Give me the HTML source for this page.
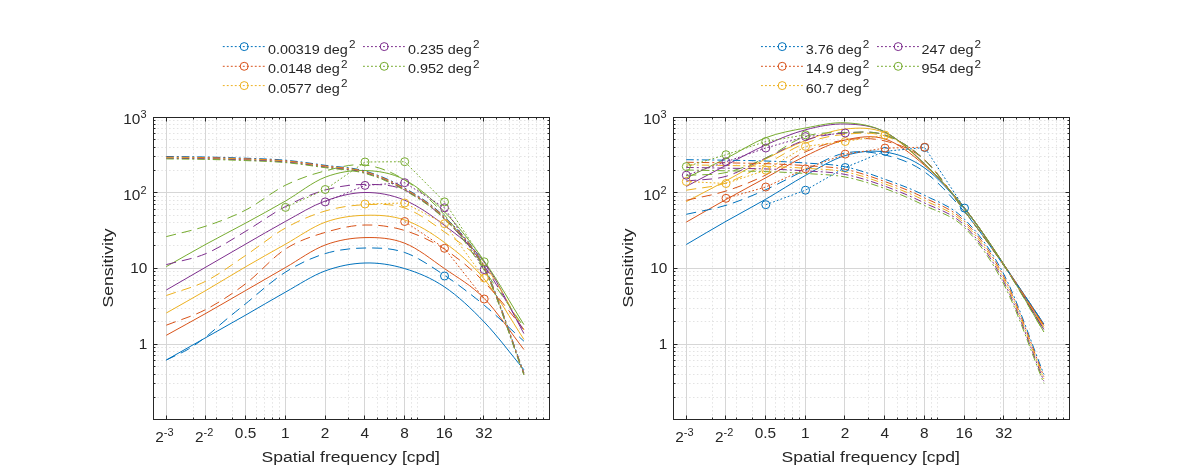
<!DOCTYPE html><html><head><meta charset="utf-8"><style>html,body{margin:0;padding:0;background:#fff;overflow:hidden}svg{display:block;will-change:transform}</style></head><body><svg width="1181" height="472" viewBox="0 0 1181 472" font-family='"Liberation Sans", sans-serif' fill="#262626">
<rect width="1181" height="472" fill="#fff"/>
<path d="M193.5,117.5V419.5 M216.5,117.5V419.5 M232.5,117.5V419.5 M245.5,117.5V419.5 M256.5,117.5V419.5 M264.5,117.5V419.5 M272.5,117.5V419.5 M279.5,117.5V419.5 M325.5,117.5V419.5 M348.5,117.5V419.5 M364.5,117.5V419.5 M377.5,117.5V419.5 M387.5,117.5V419.5 M396.5,117.5V419.5 M404.5,117.5V419.5 M411.5,117.5V419.5 M456.5,117.5V419.5 M480.5,117.5V419.5 M496.5,117.5V419.5 M509.5,117.5V419.5 M519.5,117.5V419.5 M528.5,117.5V419.5 M536.5,117.5V419.5 M543.5,117.5V419.5 M153.5,397.5H549.5 M153.5,383.5H549.5 M153.5,374.5H549.5 M153.5,366.5H549.5 M153.5,360.5H549.5 M153.5,355.5H549.5 M153.5,351.5H549.5 M153.5,347.5H549.5 M153.5,321.5H549.5 M153.5,308.5H549.5 M153.5,298.5H549.5 M153.5,291.5H549.5 M153.5,285.5H549.5 M153.5,280.5H549.5 M153.5,275.5H549.5 M153.5,271.5H549.5 M153.5,245.5H549.5 M153.5,232.5H549.5 M153.5,222.5H549.5 M153.5,215.5H549.5 M153.5,209.5H549.5 M153.5,204.5H549.5 M153.5,200.5H549.5 M153.5,196.5H549.5 M153.5,170.5H549.5 M153.5,156.5H549.5 M153.5,147.5H549.5 M153.5,139.5H549.5 M153.5,133.5H549.5 M153.5,128.5H549.5 M153.5,124.5H549.5 M153.5,120.5H549.5 M285.5,117.5V419.5 M417.5,117.5V419.5" stroke="#e3e3e3" stroke-width="1" stroke-dasharray="1.5 2.4" fill="none"/>
<path d="M166.5,117.5V419.5 M205.5,117.5V419.5 M245.5,117.5V419.5 M285.5,117.5V419.5 M325.5,117.5V419.5 M364.5,117.5V419.5 M404.5,117.5V419.5 M444.5,117.5V419.5 M483.5,117.5V419.5 M153.5,344.5H549.5 M153.5,268.5H549.5 M153.5,192.5H549.5" stroke="#d6d6d6" stroke-width="1" fill="none"/>
<path d="M712.5,117.5V419.5 M736.5,117.5V419.5 M752.5,117.5V419.5 M765.5,117.5V419.5 M775.5,117.5V419.5 M784.5,117.5V419.5 M792.5,117.5V419.5 M799.5,117.5V419.5 M844.5,117.5V419.5 M868.5,117.5V419.5 M884.5,117.5V419.5 M897.5,117.5V419.5 M907.5,117.5V419.5 M916.5,117.5V419.5 M924.5,117.5V419.5 M931.5,117.5V419.5 M976.5,117.5V419.5 M1000.5,117.5V419.5 M1016.5,117.5V419.5 M1029.5,117.5V419.5 M1039.5,117.5V419.5 M1048.5,117.5V419.5 M1056.5,117.5V419.5 M1063.5,117.5V419.5 M673.5,397.5H1069.5 M673.5,383.5H1069.5 M673.5,374.5H1069.5 M673.5,366.5H1069.5 M673.5,360.5H1069.5 M673.5,355.5H1069.5 M673.5,351.5H1069.5 M673.5,347.5H1069.5 M673.5,321.5H1069.5 M673.5,308.5H1069.5 M673.5,298.5H1069.5 M673.5,291.5H1069.5 M673.5,285.5H1069.5 M673.5,280.5H1069.5 M673.5,275.5H1069.5 M673.5,271.5H1069.5 M673.5,245.5H1069.5 M673.5,232.5H1069.5 M673.5,222.5H1069.5 M673.5,215.5H1069.5 M673.5,209.5H1069.5 M673.5,204.5H1069.5 M673.5,200.5H1069.5 M673.5,196.5H1069.5 M673.5,170.5H1069.5 M673.5,156.5H1069.5 M673.5,147.5H1069.5 M673.5,139.5H1069.5 M673.5,133.5H1069.5 M673.5,128.5H1069.5 M673.5,124.5H1069.5 M673.5,120.5H1069.5 M805.5,117.5V419.5 M937.5,117.5V419.5" stroke="#e3e3e3" stroke-width="1" stroke-dasharray="1.5 2.4" fill="none"/>
<path d="M686.5,117.5V419.5 M725.5,117.5V419.5 M765.5,117.5V419.5 M805.5,117.5V419.5 M844.5,117.5V419.5 M884.5,117.5V419.5 M924.5,117.5V419.5 M964.5,117.5V419.5 M1003.5,117.5V419.5 M673.5,344.5H1069.5 M673.5,268.5H1069.5 M673.5,192.5H1069.5" stroke="#d6d6d6" stroke-width="1" fill="none"/>
<path d="M166.30,360.00 C179.53,352.50 192.75,345.00 206.00,337.50 C219.25,330.00 232.55,322.57 245.80,315.00 C259.05,307.43 272.27,299.45 285.50,292.10 C298.73,284.75 311.95,275.75 325.20,270.90 C338.45,266.05 351.75,263.38 365.00,263.00 C378.25,262.62 391.45,264.62 404.70,268.60 C417.95,272.58 431.25,278.00 444.50,286.90 C457.75,295.80 470.97,308.20 484.20,322.00 C497.43,335.80 510.67,353.80 523.90,369.70" stroke="#0072BD" stroke-width="1.00" fill="none" />
<path d="M166.30,335.30 C179.53,327.97 192.75,320.78 206.00,313.30 C219.25,305.82 232.55,298.03 245.80,290.40 C259.05,282.77 272.27,275.07 285.50,267.50 C298.73,259.93 311.95,249.98 325.20,245.00 C338.45,240.02 351.75,237.90 365.00,237.60 C378.25,237.30 391.45,238.03 404.70,243.20 C417.95,248.37 431.25,259.40 444.50,268.60 C457.75,277.80 470.97,284.92 484.20,298.40 C497.43,311.88 510.67,332.47 523.90,349.50" stroke="#D95319" stroke-width="1.00" fill="none" />
<path d="M166.30,313.00 C179.53,305.47 192.75,298.12 206.00,290.40 C219.25,282.68 232.55,274.40 245.80,266.70 C259.05,259.00 272.27,251.62 285.50,244.20 C298.73,236.78 311.95,227.02 325.20,222.20 C338.45,217.38 351.75,215.67 365.00,215.30 C378.25,214.93 391.45,215.47 404.70,220.00 C417.95,224.53 431.25,232.67 444.50,242.50 C457.75,252.33 470.97,262.85 484.20,279.00 C497.43,295.15 510.67,319.27 523.90,339.40" stroke="#EDB120" stroke-width="1.00" fill="none" />
<path d="M166.30,290.00 C179.53,282.33 192.75,274.67 206.00,267.00 C219.25,259.33 232.55,251.60 245.80,244.00 C259.05,236.40 272.27,228.57 285.50,221.40 C298.73,214.23 311.95,205.82 325.20,201.00 C338.45,196.18 351.75,192.63 365.00,192.50 C378.25,192.37 391.45,194.72 404.70,200.20 C417.95,205.68 431.25,215.10 444.50,225.40 C457.75,235.70 470.97,243.98 484.20,262.00 C497.43,280.02 510.67,309.67 523.90,333.50" stroke="#7E2F8E" stroke-width="1.00" fill="none" />
<path d="M166.30,266.60 C179.53,259.13 192.75,251.47 206.00,244.20 C219.25,236.93 232.55,230.20 245.80,223.00 C259.05,215.80 272.27,208.63 285.50,201.00 C298.73,193.37 311.95,182.28 325.20,177.20 C338.45,172.12 351.75,170.07 365.00,170.50 C378.25,170.93 391.45,172.90 404.70,179.80 C417.95,186.70 431.25,198.37 444.50,211.90 C457.75,225.43 470.97,242.22 484.20,261.00 C497.43,279.78 510.67,303.40 523.90,324.60" stroke="#77AC30" stroke-width="1.00" fill="none" />
<path d="M166.30,360.00 C173.73,356.33 181.82,353.00 188.60,349.00 C195.38,345.00 200.93,340.75 207.00,336.00 C213.07,331.25 218.53,325.90 225.00,320.50 C231.47,315.10 235.72,311.67 245.80,303.60 C255.88,295.53 272.27,280.43 285.50,272.10 C298.73,263.77 311.95,257.62 325.20,253.60 C338.45,249.58 351.75,248.18 365.00,248.00 C378.25,247.82 391.45,247.95 404.70,252.50 C417.95,257.05 431.25,266.52 444.50,275.30 C457.75,284.08 470.97,294.22 484.20,305.20 C497.43,316.18 510.67,329.20 523.90,341.20" stroke="#0072BD" stroke-width="1.00" fill="none" stroke-dasharray="10 6"/>
<path d="M166.30,325.20 C179.53,319.93 192.75,316.33 206.00,309.40 C219.25,302.47 232.55,293.67 245.80,283.60 C259.05,273.53 272.27,257.53 285.50,249.00 C298.73,240.47 311.95,236.40 325.20,232.40 C338.45,228.40 351.75,225.32 365.00,225.00 C378.25,224.68 391.45,226.47 404.70,230.50 C417.95,234.53 431.25,240.62 444.50,249.20 C457.75,257.78 470.97,268.65 484.20,282.00 C497.43,295.35 510.67,313.53 523.90,329.30" stroke="#D95319" stroke-width="1.00" fill="none" stroke-dasharray="10 6"/>
<path d="M166.30,295.50 C179.53,290.70 192.75,287.80 206.00,281.10 C219.25,274.40 232.55,264.15 245.80,255.30 C259.05,246.45 272.27,235.38 285.50,228.00 C298.73,220.62 311.95,214.88 325.20,211.00 C338.45,207.12 351.75,205.20 365.00,204.70 C378.25,204.20 391.45,203.45 404.70,208.00 C417.95,212.55 431.25,222.50 444.50,232.00 C457.75,241.50 470.97,248.67 484.20,265.00 C497.43,281.33 510.67,308.33 523.90,330.00" stroke="#EDB120" stroke-width="1.00" fill="none" stroke-dasharray="10 6"/>
<path d="M166.30,264.60 C179.53,260.93 192.75,259.17 206.00,253.60 C219.25,248.03 232.55,239.05 245.80,231.20 C259.05,223.35 272.27,213.37 285.50,206.50 C298.73,199.63 311.95,193.68 325.20,190.00 C338.45,186.32 351.75,184.40 365.00,184.40 C378.25,184.40 391.45,184.23 404.70,190.00 C417.95,195.77 431.25,206.33 444.50,219.00 C457.75,231.67 470.97,247.33 484.20,266.00 C497.43,284.67 510.67,309.33 523.90,331.00" stroke="#7E2F8E" stroke-width="1.00" fill="none" stroke-dasharray="10 6"/>
<path d="M166.30,236.60 C179.53,233.10 192.75,230.53 206.00,226.10 C219.25,221.67 232.55,216.82 245.80,210.00 C259.05,203.18 272.27,191.72 285.50,185.20 C298.73,178.68 311.95,174.27 325.20,170.90 C338.45,167.53 351.75,163.48 365.00,165.00 C378.25,166.52 391.45,171.67 404.70,180.00 C417.95,188.33 431.25,200.00 444.50,215.00 C457.75,230.00 470.97,251.33 484.20,270.00 C497.43,288.67 510.67,308.00 523.90,327.00" stroke="#77AC30" stroke-width="1.00" fill="none" stroke-dasharray="10 6"/>
<path d="M166.30,156.50 C179.53,156.67 192.75,156.72 206.00,157.00 C219.25,157.28 232.55,157.67 245.80,158.20 C259.05,158.73 272.27,159.02 285.50,160.20 C298.73,161.38 311.95,163.50 325.20,165.30 C338.45,167.10 351.75,167.22 365.00,171.00 C378.25,174.78 391.45,180.37 404.70,188.00 C417.95,195.63 431.25,203.67 444.50,216.80 C457.75,229.93 470.97,240.83 484.20,266.80 C497.43,292.77 510.67,337.33 523.90,372.60" stroke="#0072BD" stroke-width="1.00" fill="none" stroke-dasharray="7.5 3 2 3"/>
<path d="M166.30,157.10 C179.53,157.27 192.75,157.32 206.00,157.60 C219.25,157.88 232.55,158.27 245.80,158.80 C259.05,159.33 272.27,159.62 285.50,160.80 C298.73,161.98 311.95,164.10 325.20,165.90 C338.45,167.70 351.75,167.82 365.00,171.60 C378.25,175.38 391.45,180.97 404.70,188.60 C417.95,196.23 431.25,204.27 444.50,217.40 C457.75,230.53 470.97,241.43 484.20,267.40 C497.43,293.37 510.67,337.93 523.90,373.20" stroke="#D95319" stroke-width="1.00" fill="none" stroke-dasharray="7.5 3 2 3"/>
<path d="M166.30,157.70 C179.53,157.87 192.75,157.92 206.00,158.20 C219.25,158.48 232.55,158.87 245.80,159.40 C259.05,159.93 272.27,160.22 285.50,161.40 C298.73,162.58 311.95,164.70 325.20,166.50 C338.45,168.30 351.75,168.42 365.00,172.20 C378.25,175.98 391.45,181.57 404.70,189.20 C417.95,196.83 431.25,204.87 444.50,218.00 C457.75,231.13 470.97,242.03 484.20,268.00 C497.43,293.97 510.67,338.53 523.90,373.80" stroke="#EDB120" stroke-width="1.00" fill="none" stroke-dasharray="7.5 3 2 3"/>
<path d="M166.30,158.30 C179.53,158.47 192.75,158.52 206.00,158.80 C219.25,159.08 232.55,159.47 245.80,160.00 C259.05,160.53 272.27,160.82 285.50,162.00 C298.73,163.18 311.95,165.30 325.20,167.10 C338.45,168.90 351.75,169.02 365.00,172.80 C378.25,176.58 391.45,182.17 404.70,189.80 C417.95,197.43 431.25,205.47 444.50,218.60 C457.75,231.73 470.97,242.63 484.20,268.60 C497.43,294.57 510.67,339.13 523.90,374.40" stroke="#7E2F8E" stroke-width="1.00" fill="none" stroke-dasharray="7.5 3 2 3"/>
<path d="M166.30,158.90 C179.53,159.07 192.75,159.12 206.00,159.40 C219.25,159.68 232.55,160.07 245.80,160.60 C259.05,161.13 272.27,161.42 285.50,162.60 C298.73,163.78 311.95,165.90 325.20,167.70 C338.45,169.50 351.75,169.62 365.00,173.40 C378.25,177.18 391.45,182.77 404.70,190.40 C417.95,198.03 431.25,206.07 444.50,219.20 C457.75,232.33 470.97,243.23 484.20,269.20 C497.43,295.17 510.67,339.73 523.90,375.00" stroke="#77AC30" stroke-width="1.00" fill="none" stroke-dasharray="7.5 3 2 3"/>
<circle cx="444.5" cy="276.0" r="4" stroke="#0072BD" stroke-width="1" fill="none"/>
<path d="M404.70,221.50 L444.50,248.30 L484.20,299.00" stroke="#D95319" stroke-width="1" fill="none" stroke-dasharray="1.8 2.1"/>
<circle cx="404.7" cy="221.5" r="4" stroke="#D95319" stroke-width="1" fill="none"/>
<circle cx="444.5" cy="248.3" r="4" stroke="#D95319" stroke-width="1" fill="none"/>
<circle cx="484.2" cy="299.0" r="4" stroke="#D95319" stroke-width="1" fill="none"/>
<path d="M365.00,204.00 L404.70,203.00 L444.50,223.70 L484.20,278.00" stroke="#EDB120" stroke-width="1" fill="none" stroke-dasharray="1.8 2.1"/>
<circle cx="365.0" cy="204.0" r="4" stroke="#EDB120" stroke-width="1" fill="none"/>
<circle cx="404.7" cy="203.0" r="4" stroke="#EDB120" stroke-width="1" fill="none"/>
<circle cx="444.5" cy="223.7" r="4" stroke="#EDB120" stroke-width="1" fill="none"/>
<circle cx="484.2" cy="278.0" r="4" stroke="#EDB120" stroke-width="1" fill="none"/>
<path d="M325.20,201.90 L365.00,185.40 L404.70,182.70 L444.50,207.80 L484.20,269.60" stroke="#7E2F8E" stroke-width="1" fill="none" stroke-dasharray="1.8 2.1"/>
<circle cx="325.2" cy="201.9" r="4" stroke="#7E2F8E" stroke-width="1" fill="none"/>
<circle cx="365.0" cy="185.4" r="4" stroke="#7E2F8E" stroke-width="1" fill="none"/>
<circle cx="404.7" cy="182.7" r="4" stroke="#7E2F8E" stroke-width="1" fill="none"/>
<circle cx="444.5" cy="207.8" r="4" stroke="#7E2F8E" stroke-width="1" fill="none"/>
<circle cx="484.2" cy="269.6" r="4" stroke="#7E2F8E" stroke-width="1" fill="none"/>
<path d="M285.50,207.40 L325.20,189.50 L365.00,162.00 L404.70,161.70 L444.50,201.90 L484.20,261.80" stroke="#77AC30" stroke-width="1" fill="none" stroke-dasharray="1.8 2.1"/>
<circle cx="285.5" cy="207.4" r="4" stroke="#77AC30" stroke-width="1" fill="none"/>
<circle cx="325.2" cy="189.5" r="4" stroke="#77AC30" stroke-width="1" fill="none"/>
<circle cx="365.0" cy="162.0" r="4" stroke="#77AC30" stroke-width="1" fill="none"/>
<circle cx="404.7" cy="161.7" r="4" stroke="#77AC30" stroke-width="1" fill="none"/>
<circle cx="444.5" cy="201.9" r="4" stroke="#77AC30" stroke-width="1" fill="none"/>
<circle cx="484.2" cy="261.8" r="4" stroke="#77AC30" stroke-width="1" fill="none"/>
<path d="M686.30,244.50 C699.53,236.77 712.75,228.85 726.00,221.30 C739.25,213.75 752.55,206.85 765.80,199.20 C779.05,191.55 792.27,182.67 805.50,175.40 C818.73,168.13 831.95,159.50 845.20,155.60 C858.45,151.70 871.75,149.93 885.00,152.00 C898.25,154.07 911.45,158.50 924.70,168.00 C937.95,177.50 951.25,192.83 964.50,209.00 C977.75,225.17 990.97,245.83 1004.20,265.00 C1017.43,284.17 1030.67,304.33 1043.90,324.00" stroke="#0072BD" stroke-width="1.00" fill="none" />
<path d="M686.30,222.10 C699.53,214.57 712.75,206.88 726.00,199.50 C739.25,192.12 752.55,185.05 765.80,177.80 C779.05,170.55 792.27,162.30 805.50,156.00 C818.73,149.70 831.95,142.83 845.20,140.00 C858.45,137.17 871.75,134.75 885.00,139.00 C898.25,143.25 911.45,154.00 924.70,165.50 C937.95,177.00 951.25,191.42 964.50,208.00 C977.75,224.58 990.97,245.42 1004.20,265.00 C1017.43,284.58 1030.67,305.33 1043.90,325.50" stroke="#D95319" stroke-width="1.00" fill="none" />
<path d="M686.30,201.60 C699.53,194.67 712.75,187.92 726.00,180.80 C739.25,173.68 752.55,165.60 765.80,158.90 C779.05,152.20 792.27,145.58 805.50,140.60 C818.73,135.62 831.95,130.27 845.20,129.00 C858.45,127.73 871.75,127.08 885.00,133.00 C898.25,138.92 911.45,152.00 924.70,164.50 C937.95,177.00 951.25,191.25 964.50,208.00 C977.75,224.75 990.97,245.08 1004.20,265.00 C1017.43,284.92 1030.67,306.67 1043.90,327.50" stroke="#EDB120" stroke-width="1.00" fill="none" />
<path d="M686.30,186.40 C699.53,179.37 712.75,172.22 726.00,165.30 C739.25,158.38 752.55,150.82 765.80,144.90 C779.05,138.98 792.27,133.28 805.50,129.80 C818.73,126.32 831.95,123.63 845.20,124.00 C858.45,124.37 871.75,125.33 885.00,132.00 C898.25,138.67 911.45,151.33 924.70,164.00 C937.95,176.67 951.25,191.17 964.50,208.00 C977.75,224.83 990.97,244.75 1004.20,265.00 C1017.43,285.25 1030.67,308.00 1043.90,329.50" stroke="#7E2F8E" stroke-width="1.00" fill="none" />
<path d="M686.30,178.00 C699.53,171.50 712.75,165.22 726.00,158.50 C739.25,151.78 752.55,142.78 765.80,137.70 C779.05,132.62 792.27,130.48 805.50,128.00 C818.73,125.52 831.95,122.13 845.20,122.80 C858.45,123.47 871.75,125.13 885.00,132.00 C898.25,138.87 911.45,151.33 924.70,164.00 C937.95,176.67 951.25,191.17 964.50,208.00 C977.75,224.83 990.97,244.33 1004.20,265.00 C1017.43,285.67 1030.67,309.67 1043.90,332.00" stroke="#77AC30" stroke-width="1.00" fill="none" />
<path d="M686.30,214.30 C699.53,211.30 712.75,209.40 726.00,205.30 C739.25,201.20 752.55,195.58 765.80,189.70 C779.05,183.82 792.27,176.12 805.50,170.00 C818.73,163.88 831.95,155.50 845.20,153.00 C858.45,150.50 871.75,151.83 885.00,155.00 C898.25,158.17 911.45,162.50 924.70,172.00 C937.95,181.50 951.25,196.33 964.50,212.00 C977.75,227.67 990.97,247.33 1004.20,266.00 C1017.43,284.67 1030.67,304.67 1043.90,324.00" stroke="#0072BD" stroke-width="1.00" fill="none" stroke-dasharray="10 6"/>
<path d="M686.30,200.30 C699.53,197.20 712.75,195.22 726.00,191.00 C739.25,186.78 752.55,181.53 765.80,175.00 C779.05,168.47 792.27,157.63 805.50,151.80 C818.73,145.97 831.95,141.80 845.20,140.00 C858.45,138.20 871.75,137.67 885.00,141.00 C898.25,144.33 911.45,148.33 924.70,160.00 C937.95,171.67 951.25,193.33 964.50,211.00 C977.75,228.67 990.97,246.92 1004.20,266.00 C1017.43,285.08 1030.67,305.67 1043.90,325.50" stroke="#D95319" stroke-width="1.00" fill="none" stroke-dasharray="10 6"/>
<path d="M686.30,190.20 C699.53,187.80 712.75,187.37 726.00,183.00 C739.25,178.63 752.55,170.63 765.80,164.00 C779.05,157.37 792.27,148.15 805.50,143.20 C818.73,138.25 831.95,135.50 845.20,134.30 C858.45,133.10 871.75,131.72 885.00,136.00 C898.25,140.28 911.45,147.50 924.70,160.00 C937.95,172.50 951.25,193.33 964.50,211.00 C977.75,228.67 990.97,246.58 1004.20,266.00 C1017.43,285.42 1030.67,307.00 1043.90,327.50" stroke="#EDB120" stroke-width="1.00" fill="none" stroke-dasharray="10 6"/>
<path d="M686.30,181.00 C699.53,179.43 712.75,180.13 726.00,176.30 C739.25,172.47 752.55,164.05 765.80,158.00 C779.05,151.95 792.27,144.17 805.50,140.00 C818.73,135.83 831.95,133.83 845.20,133.00 C858.45,132.17 871.75,130.50 885.00,135.00 C898.25,139.50 911.45,147.33 924.70,160.00 C937.95,172.67 951.25,193.33 964.50,211.00 C977.75,228.67 990.97,246.25 1004.20,266.00 C1017.43,285.75 1030.67,308.33 1043.90,329.50" stroke="#7E2F8E" stroke-width="1.00" fill="none" stroke-dasharray="10 6"/>
<path d="M686.30,175.40 C699.53,174.43 712.75,175.40 726.00,172.50 C739.25,169.60 752.55,164.02 765.80,158.00 C779.05,151.98 792.27,140.63 805.50,136.40 C818.73,132.17 831.95,132.83 845.20,132.60 C858.45,132.37 871.75,130.43 885.00,135.00 C898.25,139.57 911.45,147.33 924.70,160.00 C937.95,172.67 951.25,193.33 964.50,211.00 C977.75,228.67 990.97,245.83 1004.20,266.00 C1017.43,286.17 1030.67,310.00 1043.90,332.00" stroke="#77AC30" stroke-width="1.00" fill="none" stroke-dasharray="10 6"/>
<path d="M686.30,159.70 C699.53,159.87 712.75,159.98 726.00,160.20 C739.25,160.42 752.55,160.53 765.80,161.00 C779.05,161.47 792.27,162.03 805.50,163.00 C818.73,163.97 831.95,164.08 845.20,166.80 C858.45,169.52 871.75,174.53 885.00,179.30 C898.25,184.07 911.45,188.75 924.70,195.40 C937.95,202.05 951.25,205.93 964.50,219.20 C977.75,232.47 990.97,249.13 1004.20,275.00 C1017.43,300.87 1030.67,341.27 1043.90,374.40" stroke="#0072BD" stroke-width="1.00" fill="none" stroke-dasharray="7.5 3 2 3"/>
<path d="M686.30,162.27 C699.53,162.47 712.75,162.62 726.00,162.85 C739.25,163.08 752.55,163.19 765.80,163.65 C779.05,164.11 792.27,164.68 805.50,165.62 C818.73,166.57 831.95,166.68 845.20,169.35 C858.45,172.02 871.75,176.86 885.00,181.63 C898.25,186.39 911.45,191.34 924.70,197.95 C937.95,204.56 951.25,208.04 964.50,221.30 C977.75,234.56 990.97,251.60 1004.20,277.50 C1017.43,303.40 1030.67,343.62 1043.90,376.67" stroke="#D95319" stroke-width="1.00" fill="none" stroke-dasharray="7.5 3 2 3"/>
<path d="M686.30,164.85 C699.53,165.07 712.75,165.26 726.00,165.50 C739.25,165.74 752.55,165.84 765.80,166.30 C779.05,166.76 792.27,167.32 805.50,168.25 C818.73,169.18 831.95,169.28 845.20,171.90 C858.45,174.52 871.75,179.18 885.00,183.95 C898.25,188.72 911.45,193.93 924.70,200.50 C937.95,207.07 951.25,210.15 964.50,223.40 C977.75,236.65 990.97,254.07 1004.20,280.00 C1017.43,305.93 1030.67,345.97 1043.90,378.95" stroke="#EDB120" stroke-width="1.00" fill="none" stroke-dasharray="7.5 3 2 3"/>
<path d="M686.30,167.43 C699.53,167.67 712.75,167.90 726.00,168.15 C739.25,168.40 752.55,168.50 765.80,168.95 C779.05,169.40 792.27,169.96 805.50,170.88 C818.73,171.79 831.95,171.88 845.20,174.45 C858.45,177.02 871.75,181.51 885.00,186.27 C898.25,191.04 911.45,196.51 924.70,203.05 C937.95,209.59 951.25,212.26 964.50,225.50 C977.75,238.74 990.97,256.55 1004.20,282.50 C1017.43,308.45 1030.67,348.32 1043.90,381.23" stroke="#7E2F8E" stroke-width="1.00" fill="none" stroke-dasharray="7.5 3 2 3"/>
<path d="M686.30,170.00 C699.53,170.27 712.75,170.53 726.00,170.80 C739.25,171.07 752.55,171.15 765.80,171.60 C779.05,172.05 792.27,172.60 805.50,173.50 C818.73,174.40 831.95,174.48 845.20,177.00 C858.45,179.52 871.75,183.83 885.00,188.60 C898.25,193.37 911.45,199.10 924.70,205.60 C937.95,212.10 951.25,214.37 964.50,227.60 C977.75,240.83 990.97,259.02 1004.20,285.00 C1017.43,310.98 1030.67,350.67 1043.90,383.50" stroke="#77AC30" stroke-width="1.00" fill="none" stroke-dasharray="7.5 3 2 3"/>
<path d="M765.80,204.70 L805.50,190.20 L845.20,167.50 L885.00,151.30 L924.70,147.50 L964.50,208.10" stroke="#0072BD" stroke-width="1" fill="none" stroke-dasharray="1.8 2.1"/>
<circle cx="765.8" cy="204.7" r="4" stroke="#0072BD" stroke-width="1" fill="none"/>
<circle cx="805.5" cy="190.2" r="4" stroke="#0072BD" stroke-width="1" fill="none"/>
<circle cx="845.2" cy="167.5" r="4" stroke="#0072BD" stroke-width="1" fill="none"/>
<circle cx="885.0" cy="151.3" r="4" stroke="#0072BD" stroke-width="1" fill="none"/>
<circle cx="924.7" cy="147.5" r="4" stroke="#0072BD" stroke-width="1" fill="none"/>
<circle cx="964.5" cy="208.1" r="4" stroke="#0072BD" stroke-width="1" fill="none"/>
<path d="M726.00,198.30 L765.80,187.00 L805.50,168.80 L845.20,154.10 L885.00,148.10 L924.70,147.20" stroke="#D95319" stroke-width="1" fill="none" stroke-dasharray="1.8 2.1"/>
<circle cx="726.0" cy="198.3" r="4" stroke="#D95319" stroke-width="1" fill="none"/>
<circle cx="765.8" cy="187.0" r="4" stroke="#D95319" stroke-width="1" fill="none"/>
<circle cx="805.5" cy="168.8" r="4" stroke="#D95319" stroke-width="1" fill="none"/>
<circle cx="845.2" cy="154.1" r="4" stroke="#D95319" stroke-width="1" fill="none"/>
<circle cx="885.0" cy="148.1" r="4" stroke="#D95319" stroke-width="1" fill="none"/>
<circle cx="924.7" cy="147.2" r="4" stroke="#D95319" stroke-width="1" fill="none"/>
<path d="M686.30,181.50 L726.00,183.50 L765.80,170.20 L805.50,146.40 L845.20,141.50 L885.00,135.10" stroke="#EDB120" stroke-width="1" fill="none" stroke-dasharray="1.8 2.1"/>
<circle cx="686.3" cy="181.5" r="4" stroke="#EDB120" stroke-width="1" fill="none"/>
<circle cx="726.0" cy="183.5" r="4" stroke="#EDB120" stroke-width="1" fill="none"/>
<circle cx="765.8" cy="170.2" r="4" stroke="#EDB120" stroke-width="1" fill="none"/>
<circle cx="805.5" cy="146.4" r="4" stroke="#EDB120" stroke-width="1" fill="none"/>
<circle cx="845.2" cy="141.5" r="4" stroke="#EDB120" stroke-width="1" fill="none"/>
<circle cx="885.0" cy="135.1" r="4" stroke="#EDB120" stroke-width="1" fill="none"/>
<path d="M686.30,175.20 L726.00,161.80 L765.80,148.00 L805.50,136.60 L845.20,133.00" stroke="#7E2F8E" stroke-width="1" fill="none" stroke-dasharray="1.8 2.1"/>
<circle cx="686.3" cy="175.2" r="4" stroke="#7E2F8E" stroke-width="1" fill="none"/>
<circle cx="726.0" cy="161.8" r="4" stroke="#7E2F8E" stroke-width="1" fill="none"/>
<circle cx="765.8" cy="148.0" r="4" stroke="#7E2F8E" stroke-width="1" fill="none"/>
<circle cx="805.5" cy="136.6" r="4" stroke="#7E2F8E" stroke-width="1" fill="none"/>
<circle cx="845.2" cy="133.0" r="4" stroke="#7E2F8E" stroke-width="1" fill="none"/>
<path d="M686.30,166.60 L726.00,154.70 L765.80,141.50 L805.50,134.80" stroke="#77AC30" stroke-width="1" fill="none" stroke-dasharray="1.8 2.1"/>
<circle cx="686.3" cy="166.6" r="4" stroke="#77AC30" stroke-width="1" fill="none"/>
<circle cx="726.0" cy="154.7" r="4" stroke="#77AC30" stroke-width="1" fill="none"/>
<circle cx="765.8" cy="141.5" r="4" stroke="#77AC30" stroke-width="1" fill="none"/>
<circle cx="805.5" cy="134.8" r="4" stroke="#77AC30" stroke-width="1" fill="none"/>
<path d="M166.5,419.5v-4M166.5,117.5v4 M205.5,419.5v-4M205.5,117.5v4 M245.5,419.5v-4M245.5,117.5v4 M285.5,419.5v-4M285.5,117.5v4 M325.5,419.5v-4M325.5,117.5v4 M364.5,419.5v-4M364.5,117.5v4 M404.5,419.5v-4M404.5,117.5v4 M444.5,419.5v-4M444.5,117.5v4 M483.5,419.5v-4M483.5,117.5v4 M193.5,419.5v-2M193.5,117.5v2 M216.5,419.5v-2M216.5,117.5v2 M232.5,419.5v-2M232.5,117.5v2 M245.5,419.5v-2M245.5,117.5v2 M256.5,419.5v-2M256.5,117.5v2 M264.5,419.5v-2M264.5,117.5v2 M272.5,419.5v-2M272.5,117.5v2 M279.5,419.5v-2M279.5,117.5v2 M325.5,419.5v-2M325.5,117.5v2 M348.5,419.5v-2M348.5,117.5v2 M364.5,419.5v-2M364.5,117.5v2 M377.5,419.5v-2M377.5,117.5v2 M387.5,419.5v-2M387.5,117.5v2 M396.5,419.5v-2M396.5,117.5v2 M404.5,419.5v-2M404.5,117.5v2 M411.5,419.5v-2M411.5,117.5v2 M456.5,419.5v-2M456.5,117.5v2 M480.5,419.5v-2M480.5,117.5v2 M496.5,419.5v-2M496.5,117.5v2 M509.5,419.5v-2M509.5,117.5v2 M519.5,419.5v-2M519.5,117.5v2 M528.5,419.5v-2M528.5,117.5v2 M536.5,419.5v-2M536.5,117.5v2 M543.5,419.5v-2M543.5,117.5v2 M417.5,419.5v-2M417.5,117.5v2 M153.5,344.5h4M549.5,344.5h-4 M153.5,268.5h4M549.5,268.5h-4 M153.5,192.5h4M549.5,192.5h-4 M153.5,397.5h2M549.5,397.5h-2 M153.5,383.5h2M549.5,383.5h-2 M153.5,374.5h2M549.5,374.5h-2 M153.5,366.5h2M549.5,366.5h-2 M153.5,360.5h2M549.5,360.5h-2 M153.5,355.5h2M549.5,355.5h-2 M153.5,351.5h2M549.5,351.5h-2 M153.5,347.5h2M549.5,347.5h-2 M153.5,321.5h2M549.5,321.5h-2 M153.5,308.5h2M549.5,308.5h-2 M153.5,298.5h2M549.5,298.5h-2 M153.5,291.5h2M549.5,291.5h-2 M153.5,285.5h2M549.5,285.5h-2 M153.5,280.5h2M549.5,280.5h-2 M153.5,275.5h2M549.5,275.5h-2 M153.5,271.5h2M549.5,271.5h-2 M153.5,245.5h2M549.5,245.5h-2 M153.5,232.5h2M549.5,232.5h-2 M153.5,222.5h2M549.5,222.5h-2 M153.5,215.5h2M549.5,215.5h-2 M153.5,209.5h2M549.5,209.5h-2 M153.5,204.5h2M549.5,204.5h-2 M153.5,200.5h2M549.5,200.5h-2 M153.5,196.5h2M549.5,196.5h-2 M153.5,170.5h2M549.5,170.5h-2 M153.5,156.5h2M549.5,156.5h-2 M153.5,147.5h2M549.5,147.5h-2 M153.5,139.5h2M549.5,139.5h-2 M153.5,133.5h2M549.5,133.5h-2 M153.5,128.5h2M549.5,128.5h-2 M153.5,124.5h2M549.5,124.5h-2 M153.5,120.5h2M549.5,120.5h-2" stroke="#262626" stroke-width="1" fill="none"/>
<rect x="153.5" y="117.5" width="396.0" height="302.0" stroke="#262626" stroke-width="1" fill="none"/>
<text transform="translate(155.30,441.60) scale(1.100,1)" font-size="14.00" text-anchor="start" >2<tspan font-size="10.0" dy="-5.8">-3</tspan></text>
<text transform="translate(195.03,441.60) scale(1.100,1)" font-size="14.00" text-anchor="start" >2<tspan font-size="10.0" dy="-5.8">-2</tspan></text>
<text transform="translate(245.55,438.30) scale(1.100,1)" font-size="14.00" text-anchor="middle" >0.5</text>
<text transform="translate(285.28,438.30) scale(1.100,1)" font-size="14.00" text-anchor="middle" >1</text>
<text transform="translate(325.01,438.30) scale(1.100,1)" font-size="14.00" text-anchor="middle" >2</text>
<text transform="translate(364.73,438.30) scale(1.100,1)" font-size="14.00" text-anchor="middle" >4</text>
<text transform="translate(404.46,438.30) scale(1.100,1)" font-size="14.00" text-anchor="middle" >8</text>
<text transform="translate(444.19,438.30) scale(1.100,1)" font-size="14.00" text-anchor="middle" >16</text>
<text transform="translate(483.91,438.30) scale(1.100,1)" font-size="14.00" text-anchor="middle" >32</text>
<text transform="translate(146.50,124.08) scale(1.100,1)" font-size="14.00" text-anchor="end" >10<tspan font-size="10.0" dy="-5.8">3</tspan></text>
<text transform="translate(146.50,199.74) scale(1.100,1)" font-size="14.00" text-anchor="end" >10<tspan font-size="10.0" dy="-5.8">2</tspan></text>
<text transform="translate(147.40,273.40) scale(1.100,1)" font-size="14.00" text-anchor="end" >10</text>
<text transform="translate(147.40,349.06) scale(1.100,1)" font-size="14.00" text-anchor="end" >1</text>
<text transform="translate(350.80,462.00) scale(1.197,1)" font-size="14.67" text-anchor="middle" >Spatial frequency [cpd]</text>
<text transform="translate(112.9,268.0) rotate(-90) scale(1.20,1)" font-size="14.67" text-anchor="middle">Sensitivity</text>
<path d="M686.5,419.5v-4M686.5,117.5v4 M725.5,419.5v-4M725.5,117.5v4 M765.5,419.5v-4M765.5,117.5v4 M805.5,419.5v-4M805.5,117.5v4 M844.5,419.5v-4M844.5,117.5v4 M884.5,419.5v-4M884.5,117.5v4 M924.5,419.5v-4M924.5,117.5v4 M964.5,419.5v-4M964.5,117.5v4 M1003.5,419.5v-4M1003.5,117.5v4 M712.5,419.5v-2M712.5,117.5v2 M736.5,419.5v-2M736.5,117.5v2 M752.5,419.5v-2M752.5,117.5v2 M765.5,419.5v-2M765.5,117.5v2 M775.5,419.5v-2M775.5,117.5v2 M784.5,419.5v-2M784.5,117.5v2 M792.5,419.5v-2M792.5,117.5v2 M799.5,419.5v-2M799.5,117.5v2 M844.5,419.5v-2M844.5,117.5v2 M868.5,419.5v-2M868.5,117.5v2 M884.5,419.5v-2M884.5,117.5v2 M897.5,419.5v-2M897.5,117.5v2 M907.5,419.5v-2M907.5,117.5v2 M916.5,419.5v-2M916.5,117.5v2 M924.5,419.5v-2M924.5,117.5v2 M931.5,419.5v-2M931.5,117.5v2 M976.5,419.5v-2M976.5,117.5v2 M1000.5,419.5v-2M1000.5,117.5v2 M1016.5,419.5v-2M1016.5,117.5v2 M1029.5,419.5v-2M1029.5,117.5v2 M1039.5,419.5v-2M1039.5,117.5v2 M1048.5,419.5v-2M1048.5,117.5v2 M1056.5,419.5v-2M1056.5,117.5v2 M1063.5,419.5v-2M1063.5,117.5v2 M937.5,419.5v-2M937.5,117.5v2 M673.5,344.5h4M1069.5,344.5h-4 M673.5,268.5h4M1069.5,268.5h-4 M673.5,192.5h4M1069.5,192.5h-4 M673.5,397.5h2M1069.5,397.5h-2 M673.5,383.5h2M1069.5,383.5h-2 M673.5,374.5h2M1069.5,374.5h-2 M673.5,366.5h2M1069.5,366.5h-2 M673.5,360.5h2M1069.5,360.5h-2 M673.5,355.5h2M1069.5,355.5h-2 M673.5,351.5h2M1069.5,351.5h-2 M673.5,347.5h2M1069.5,347.5h-2 M673.5,321.5h2M1069.5,321.5h-2 M673.5,308.5h2M1069.5,308.5h-2 M673.5,298.5h2M1069.5,298.5h-2 M673.5,291.5h2M1069.5,291.5h-2 M673.5,285.5h2M1069.5,285.5h-2 M673.5,280.5h2M1069.5,280.5h-2 M673.5,275.5h2M1069.5,275.5h-2 M673.5,271.5h2M1069.5,271.5h-2 M673.5,245.5h2M1069.5,245.5h-2 M673.5,232.5h2M1069.5,232.5h-2 M673.5,222.5h2M1069.5,222.5h-2 M673.5,215.5h2M1069.5,215.5h-2 M673.5,209.5h2M1069.5,209.5h-2 M673.5,204.5h2M1069.5,204.5h-2 M673.5,200.5h2M1069.5,200.5h-2 M673.5,196.5h2M1069.5,196.5h-2 M673.5,170.5h2M1069.5,170.5h-2 M673.5,156.5h2M1069.5,156.5h-2 M673.5,147.5h2M1069.5,147.5h-2 M673.5,139.5h2M1069.5,139.5h-2 M673.5,133.5h2M1069.5,133.5h-2 M673.5,128.5h2M1069.5,128.5h-2 M673.5,124.5h2M1069.5,124.5h-2 M673.5,120.5h2M1069.5,120.5h-2" stroke="#262626" stroke-width="1" fill="none"/>
<rect x="673.5" y="117.5" width="396.0" height="302.0" stroke="#262626" stroke-width="1" fill="none"/>
<text transform="translate(675.23,441.60) scale(1.100,1)" font-size="14.00" text-anchor="start" >2<tspan font-size="10.0" dy="-5.8">-3</tspan></text>
<text transform="translate(714.96,441.60) scale(1.100,1)" font-size="14.00" text-anchor="start" >2<tspan font-size="10.0" dy="-5.8">-2</tspan></text>
<text transform="translate(765.48,438.30) scale(1.100,1)" font-size="14.00" text-anchor="middle" >0.5</text>
<text transform="translate(805.21,438.30) scale(1.100,1)" font-size="14.00" text-anchor="middle" >1</text>
<text transform="translate(844.94,438.30) scale(1.100,1)" font-size="14.00" text-anchor="middle" >2</text>
<text transform="translate(884.66,438.30) scale(1.100,1)" font-size="14.00" text-anchor="middle" >4</text>
<text transform="translate(924.39,438.30) scale(1.100,1)" font-size="14.00" text-anchor="middle" >8</text>
<text transform="translate(964.12,438.30) scale(1.100,1)" font-size="14.00" text-anchor="middle" >16</text>
<text transform="translate(1003.84,438.30) scale(1.100,1)" font-size="14.00" text-anchor="middle" >32</text>
<text transform="translate(666.50,124.08) scale(1.100,1)" font-size="14.00" text-anchor="end" >10<tspan font-size="10.0" dy="-5.8">3</tspan></text>
<text transform="translate(666.50,199.74) scale(1.100,1)" font-size="14.00" text-anchor="end" >10<tspan font-size="10.0" dy="-5.8">2</tspan></text>
<text transform="translate(667.40,273.40) scale(1.100,1)" font-size="14.00" text-anchor="end" >10</text>
<text transform="translate(667.40,349.06) scale(1.100,1)" font-size="14.00" text-anchor="end" >1</text>
<text transform="translate(870.80,462.00) scale(1.197,1)" font-size="14.67" text-anchor="middle" >Spatial frequency [cpd]</text>
<text transform="translate(632.9,268.0) rotate(-90) scale(1.20,1)" font-size="14.67" text-anchor="middle">Sensitivity</text>
<path d="M222.8,46.6H265.0" stroke="#0072BD" stroke-width="1" stroke-dasharray="1.9 2.1" fill="none"/>
<circle cx="244.2" cy="46.6" r="4" stroke="#0072BD" stroke-width="1" fill="#fff" fill-opacity="0"/>
<text transform="translate(267.90,53.60) scale(1.150,1)" font-size="12.50" text-anchor="start" >0.00319 deg<tspan font-size="10.2" dx="1" dy="-5.3">2</tspan></text>
<path d="M222.8,66.3H265.0" stroke="#D95319" stroke-width="1" stroke-dasharray="1.9 2.1" fill="none"/>
<circle cx="244.2" cy="66.3" r="4" stroke="#D95319" stroke-width="1" fill="#fff" fill-opacity="0"/>
<text transform="translate(267.90,73.30) scale(1.150,1)" font-size="12.50" text-anchor="start" >0.0148 deg<tspan font-size="10.2" dx="1" dy="-5.3">2</tspan></text>
<path d="M222.8,85.6H265.0" stroke="#EDB120" stroke-width="1" stroke-dasharray="1.9 2.1" fill="none"/>
<circle cx="244.2" cy="85.6" r="4" stroke="#EDB120" stroke-width="1" fill="#fff" fill-opacity="0"/>
<text transform="translate(267.90,92.60) scale(1.150,1)" font-size="12.50" text-anchor="start" >0.0577 deg<tspan font-size="10.2" dx="1" dy="-5.3">2</tspan></text>
<path d="M363.0,46.6H404.8" stroke="#7E2F8E" stroke-width="1" stroke-dasharray="1.9 2.1" fill="none"/>
<circle cx="384.2" cy="46.6" r="4" stroke="#7E2F8E" stroke-width="1" fill="#fff" fill-opacity="0"/>
<text transform="translate(407.90,53.60) scale(1.150,1)" font-size="12.50" text-anchor="start" >0.235 deg<tspan font-size="10.2" dx="1" dy="-5.3">2</tspan></text>
<path d="M363.0,66.3H404.8" stroke="#77AC30" stroke-width="1" stroke-dasharray="1.9 2.1" fill="none"/>
<circle cx="384.2" cy="66.3" r="4" stroke="#77AC30" stroke-width="1" fill="#fff" fill-opacity="0"/>
<text transform="translate(407.90,73.30) scale(1.150,1)" font-size="12.50" text-anchor="start" >0.952 deg<tspan font-size="10.2" dx="1" dy="-5.3">2</tspan></text>
<path d="M761.0,46.6H803.0" stroke="#0072BD" stroke-width="1" stroke-dasharray="1.9 2.1" fill="none"/>
<circle cx="782.2" cy="46.6" r="4" stroke="#0072BD" stroke-width="1" fill="#fff" fill-opacity="0"/>
<text transform="translate(805.70,53.60) scale(1.150,1)" font-size="12.50" text-anchor="start" >3.76 deg<tspan font-size="10.2" dx="1" dy="-5.3">2</tspan></text>
<path d="M761.0,66.3H803.0" stroke="#D95319" stroke-width="1" stroke-dasharray="1.9 2.1" fill="none"/>
<circle cx="782.2" cy="66.3" r="4" stroke="#D95319" stroke-width="1" fill="#fff" fill-opacity="0"/>
<text transform="translate(805.70,73.30) scale(1.150,1)" font-size="12.50" text-anchor="start" >14.9 deg<tspan font-size="10.2" dx="1" dy="-5.3">2</tspan></text>
<path d="M761.0,85.6H803.0" stroke="#EDB120" stroke-width="1" stroke-dasharray="1.9 2.1" fill="none"/>
<circle cx="782.2" cy="85.6" r="4" stroke="#EDB120" stroke-width="1" fill="#fff" fill-opacity="0"/>
<text transform="translate(805.70,92.60) scale(1.150,1)" font-size="12.50" text-anchor="start" >60.7 deg<tspan font-size="10.2" dx="1" dy="-5.3">2</tspan></text>
<path d="M877.0,46.6H919.0" stroke="#7E2F8E" stroke-width="1" stroke-dasharray="1.9 2.1" fill="none"/>
<circle cx="898.2" cy="46.6" r="4" stroke="#7E2F8E" stroke-width="1" fill="#fff" fill-opacity="0"/>
<text transform="translate(921.50,53.60) scale(1.150,1)" font-size="12.50" text-anchor="start" >247 deg<tspan font-size="10.2" dx="1" dy="-5.3">2</tspan></text>
<path d="M877.0,66.3H919.0" stroke="#77AC30" stroke-width="1" stroke-dasharray="1.9 2.1" fill="none"/>
<circle cx="898.2" cy="66.3" r="4" stroke="#77AC30" stroke-width="1" fill="#fff" fill-opacity="0"/>
<text transform="translate(921.50,73.30) scale(1.150,1)" font-size="12.50" text-anchor="start" >954 deg<tspan font-size="10.2" dx="1" dy="-5.3">2</tspan></text>
</svg></body></html>
